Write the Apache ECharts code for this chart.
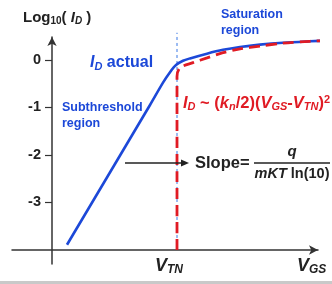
<!DOCTYPE html>
<html>
<head>
<meta charset="utf-8">
<script src="https://cdn.jsdelivr.net/npm/echarts@6/dist/echarts.min.js"></script>
<style>
    html, body {margin: 0; padding: 0; background: #fff;}
    #chart0 {width: 332px; height: 284px;}
</style>
</head>
<body>
<div id="chart0"></div>
<script>
// data (VGS in units of VTN, log10 of ID)
var VTN = 1.0;
var LOG_FLOOR = -4; // log10(ID) where the VGS axis sits
var vgsActual = [0.12, 0.784, 0.888, 0.944, 0.992, 1.048, 1.104, 1.24, 1.368, 1.504, 1.664, 1.848, 2.064, 2.24];
var logIdActual = [-3.89, -0.95, -0.48, -0.26, -0.11, -0.02, 0.03, 0.13, 0.21, 0.27, 0.32, 0.36, 0.39, 0.41];
var vgsSquare = [1.0, 1.0, 1.024, 1.128, 1.24, 1.368, 1.504, 1.664, 1.848, 2.064, 2.24];
var logIdSquare = [-4, -0.35, -0.17, -0.06, 0.04, 0.15, 0.23, 0.29, 0.35, 0.39, 0.41];
var vtnLineLog = [-4, 0.57];
var yTicks = [-3, -2, -1, 0];

var FONT = '"Liberation Sans", Arial, sans-serif';
var BLUE = '#1c48d8';
var RED = '#e01b24';

function toPairs(xs, logs) {
    var out = [];
    for (var i = 0; i < xs.length; i++) {
        out.push([xs[i], logs[i] - LOG_FLOOR]);
    }
    return out;
}

// rich text styles shared by the formula labels
function richStyles(size, color) {
    var sub = Math.round(size * 0.68);
    var lh = Math.round(size * 1.2);
    var pad = Math.round(size * 0.45);
    return {
        n: {fontSize: size, fontWeight: 'bold', fill: color, fontFamily: FONT, lineHeight: lh},
        i: {fontSize: size, fontWeight: 'bold', fontStyle: 'italic', fill: color, fontFamily: FONT, lineHeight: lh},
        s: {fontSize: sub, fontWeight: 'bold', fontStyle: 'italic', fill: color, fontFamily: FONT, lineHeight: lh - pad, padding: [pad, 0, 0, 0]},
        sn: {fontSize: sub, fontWeight: 'bold', fill: color, fontFamily: FONT, lineHeight: lh - pad, padding: [pad, 0, 0, 0]},
        p: {fontSize: sub, fontWeight: 'bold', fill: color, fontFamily: FONT, lineHeight: lh - pad, padding: [0, 0, pad, 0]}
    };
}

function label(x, y, text, size, color, align) {
    return {
        type: 'text', x: x, y: y, z: 10,
        style: {
            text: text, rich: richStyles(size, color), fill: color,
            textAlign: align || 'left', textVerticalAlign: 'middle'
        }
    };
}

var option0 = {
    animation: false,
    grid: {left: 12, right: 14, top: 37, bottom: 20, containLabel: false, outerBoundsMode: 'none'},
    xAxis: {
        type: 'value',
        min: -0.32,
        max: 2.128,
        axisLine: {onZero: true, symbol: ['none', 'arrow'], symbolSize: [7, 9], lineStyle: {color: '#333', width: 1.5}},
        axisTick: {show: false},
        axisLabel: {show: false},
        splitLine: {show: false}
    },
    yAxis: {
        type: 'value',
        min: -0.295,
        max: 4.48,
        position: 'left',
        offset: -40,
        axisLine: {onZero: false, symbol: ['none', 'arrow'], symbolSize: [7, 9], lineStyle: {color: '#333', width: 1.5}},
        axisTick: {
            show: true, length: 7, lineStyle: {color: '#333', width: 1.2},
            customValues: yTicks.map(function (v) { return v - LOG_FLOOR; })
        },
        axisLabel: {
            show: true, margin: 11, color: '#222', fontSize: 14.5, fontWeight: 'bold', fontFamily: FONT,
            customValues: yTicks.map(function (v) { return v - LOG_FLOOR; }),
            formatter: function (v) { return String(Math.round(v + LOG_FLOOR)); }
        },
        splitLine: {show: false}
    },
    series: [
        {
            name: 'VTN',
            type: 'line',
            clip: false,
            symbol: 'none',
            data: toPairs([VTN, VTN], vtnLineLog),
            lineStyle: {color: '#3a78e6', width: 1, type: [3, 3]}
        },
        {
            name: 'ID actual',
            type: 'line',
            clip: false,
            smooth: 0.3,
            symbol: 'none',
            data: toPairs(vgsActual, logIdActual),
            lineStyle: {color: BLUE, width: 2.6}
        },
        {
            name: 'ID square law',
            type: 'line',
            clip: false,
            smooth: 0.3,
            symbol: 'none',
            data: toPairs(vgsSquare, logIdSquare),
            lineStyle: {color: RED, width: 2.8, type: [11, 6]}
        }
    ],
    graphic: [
        label(23, 18, '{n|Log}{sn|10}{n|( }{i|I}{s|D}{n| )}', 15, '#222'),
        label(90, 63, '{i|I}{s|D}{n| actual}', 16, BLUE),
        {
            type: 'text', x: 62, y: 100, z: 10,
            style: {text: 'Subthreshold\nregion', fill: BLUE, font: 'bold 12.5px ' + FONT, lineHeight: 16}
        },
        {
            type: 'text', x: 221, y: 7, z: 10,
            style: {text: 'Saturation\nregion', fill: BLUE, font: 'bold 12.5px ' + FONT, lineHeight: 16}
        },
        label(183, 103, '{i|I}{s|D}{n| ~ (}{i|k}{s|n}{n|/2)(}{i|V}{s|GS}{n|-}{i|V}{s|TN}{n|)}{p|2}', 16.5, RED),
        {
            type: 'line', z: 10,
            shape: {x1: 125, y1: 163, x2: 182, y2: 163},
            style: {stroke: '#222', lineWidth: 1.5}
        },
        {
            type: 'polygon', z: 10,
            shape: {points: [[189, 163], [181, 159.5], [181, 166.5]]},
            style: {fill: '#222'}
        },
        label(195, 163, '{n|Slope=}', 16.5, '#222'),
        label(292, 152, '{i|q}', 15, '#222', 'center'),
        {
            type: 'line', z: 10,
            shape: {x1: 254, y1: 163, x2: 330, y2: 163},
            style: {stroke: '#222', lineWidth: 1.3}
        },
        label(292, 174, '{i|mKT}{n| ln(10)}', 14.5, '#222', 'center'),
        label(155, 266, '{i|V}{s|TN}', 18, '#222'),
        label(297, 266, '{i|V}{s|GS}', 18, '#222'),
        {
            type: 'rect', z: 10,
            shape: {x: 0, y: 281, width: 332, height: 3},
            style: {fill: '#c9c9c9'}
        }
    ]
};

var myChart0 = echarts.init(document.getElementById('chart0'));
myChart0.setOption(option0);
</script>
</body>
</html>
